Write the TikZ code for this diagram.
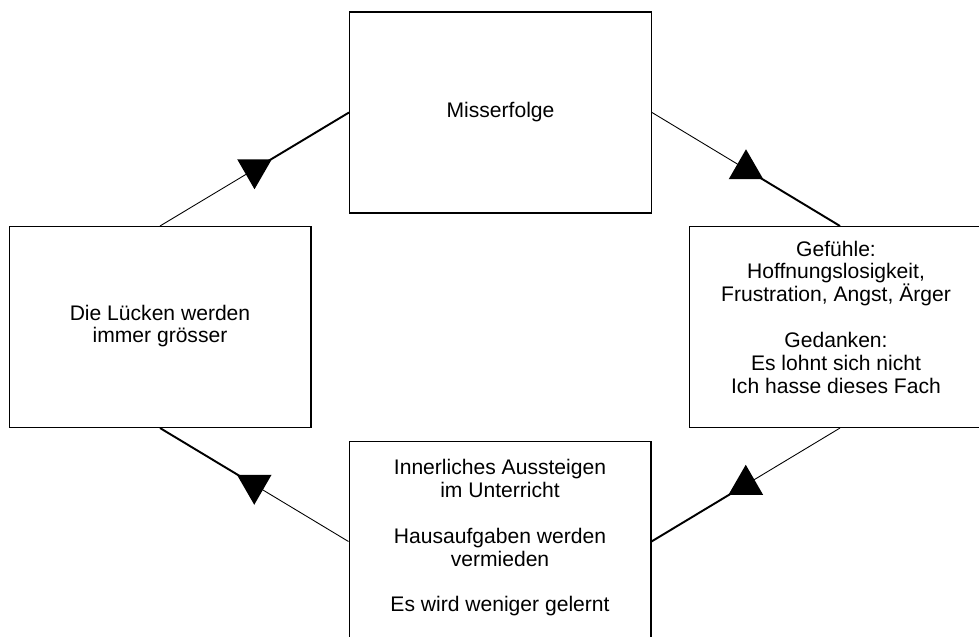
\documentclass[tikz,border=0pt]{standalone}
\usepackage{fontspec}
\setmainfont{Liberation Sans}
\usepackage{xcolor}
\usetikzlibrary{shapes.geometric, calc}

\tikzset{
  kasten/.style={draw=black, line width=0.6pt, minimum width=6.04cm, minimum height=4.02cm, inner sep=0pt},
  txt/.style={align=center, font=\fontsize{12}{13}\selectfont, inner sep=0pt},
  duenn/.style={line width=0.5pt},
  dick/.style={line width=1.1pt},
  spitzeauf/.style={regular polygon, regular polygon sides=3, fill=black, minimum size=0.8cm, inner sep=0pt},
  spitzeab/.style={spitzeauf, shape border rotate=180}
}

\begin{document}
\begin{tikzpicture}[x=0.02cm, y=-0.02cm]
\useasboundingbox (0,0) rectangle (979,636);
\clip (0,0) rectangle (979,636);

\node[kasten] (mis) at (500.5, 112.5) {};
\node[kasten] (luecken) at (160, 327) {};
\node[kasten] (gef) at (840, 327) {};
\node[kasten] (aus) at (500, 541.5) {};

\node[txt] (misT) at (500.5, 112.5) {Misserfolge};
\node[txt] (lueckenT) at (160, 326) {Die Lücken werden\\immer grösser};
\node[txt] (gefT) at (836, 317) {Gefühle:\\Hoffnungslosigkeit,\\Frustration, Angst, Ärger\\[13pt]Gedanken:\\Es lohnt sich nicht\\Ich hasse dieses Fach};
\node[txt] (ausT) at (500, 538) {Innerliches Aussteigen\\im Unterricht\\[13pt]Hausaufgaben werden\\vermieden\\[13pt]Es wird weniger gelernt};

\coordinate (m1) at ($(luecken.north)!0.5!(mis.west)$);
\coordinate (m2) at ($(mis.east)!0.5!(gef.north)$);
\coordinate (m3) at ($(gef.south)!0.5!(aus.east)$);
\coordinate (m4) at ($(aus.west)!0.5!(luecken.south)$);

\draw[duenn] (luecken.north) -- (m1);
\draw[dick] (m1) -- (mis.west);
\draw[duenn] (mis.east) -- (m2);
\draw[dick] (m2) -- (gef.north);
\draw[duenn] (gef.south) -- (m3);
\draw[dick] (m3) -- (aus.east);
\draw[duenn] (aus.west) -- (m4);
\draw[dick] (m4) -- (luecken.south);

\node[spitzeab] (p1) at (m1) {};
\node[spitzeauf] (p2) at (m2) {};
\node[spitzeauf] (p3) at (m3) {};
\node[spitzeab] (p4) at (m4) {};
\end{tikzpicture}
\end{document}
